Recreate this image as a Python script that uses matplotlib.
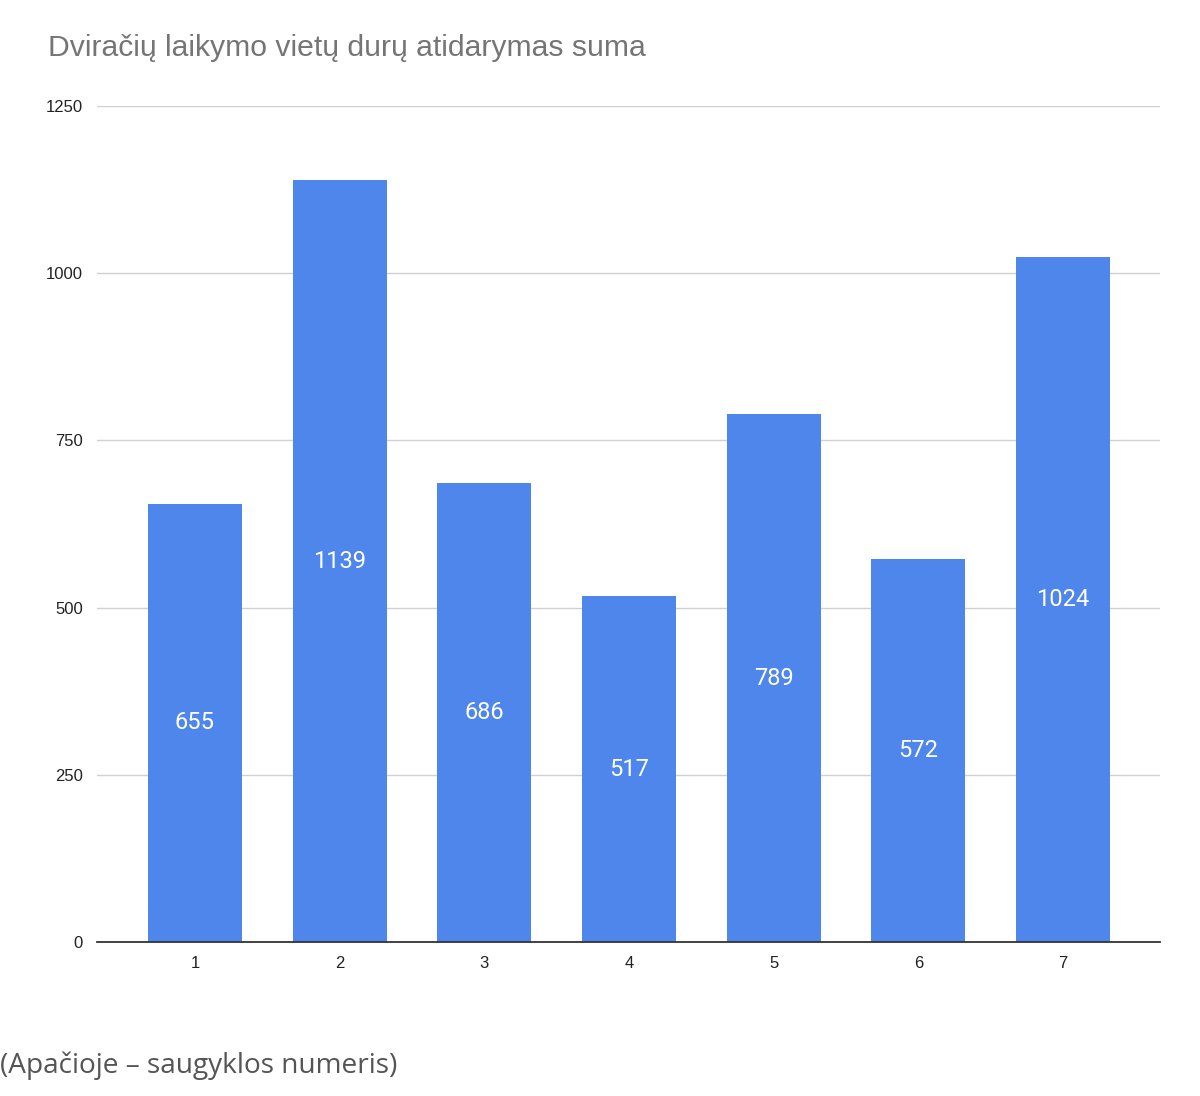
import matplotlib
matplotlib.use('Agg')
import matplotlib.pyplot as plt

categories = ['1', '2', '3', '4', '5', '6', '7']
values = [655, 1139, 686, 517, 789, 572, 1024]
yticks = [0, 250, 500, 750, 1000, 1250]

title = 'Dviračių laikymo vietų durų atidarymas suma'
caption = '(Apačioje – saugyklos numeris)'

fig = plt.figure(figsize=(12, 10.96), dpi=100)
ax = fig.add_axes([0.0808, 0.1405, 0.8859, 0.7628])

xs = list(range(1, len(categories) + 1))
bars = ax.bar(xs, values, width=0.65, color='#4f86ec', zorder=3)
for x, v in zip(xs, values):
    ax.text(x, v / 2, str(v), ha='center', va='center', color='white',
            fontsize=17, family='Roboto', zorder=4)

ax.set_xlim(0.323, 7.67)
ax.set_ylim(0, 1250)
ax.set_xticks(xs)
ax.set_xticklabels(categories)
ax.set_yticks(yticks)
ax.tick_params(axis='both', length=0, labelsize=12, colors='#222222')
ax.tick_params(axis='x', pad=10)
ax.tick_params(axis='y', pad=10)
for lbl in ax.get_xticklabels() + ax.get_yticklabels():
    lbl.set_family('Liberation Sans')

ax.grid(axis='y', color='#d0d0d0', linewidth=1, zorder=0)
for s in ['top', 'right', 'left']:
    ax.spines[s].set_visible(False)
ax.spines['bottom'].set_color('#333333')
ax.spines['bottom'].set_linewidth(1.3)
ax.spines['bottom'].set_zorder(5)

fig.text(0.04, 0.956, title, ha='left', va='center', fontsize=21.7,
         color='#757575', family='Liberation Sans')
fig.text(0.0, 0.028, caption, ha='left', va='center', fontsize=20.2,
         color='#555555', family='Open Sans')

fig.savefig('out.png', dpi=100, facecolor='white')
